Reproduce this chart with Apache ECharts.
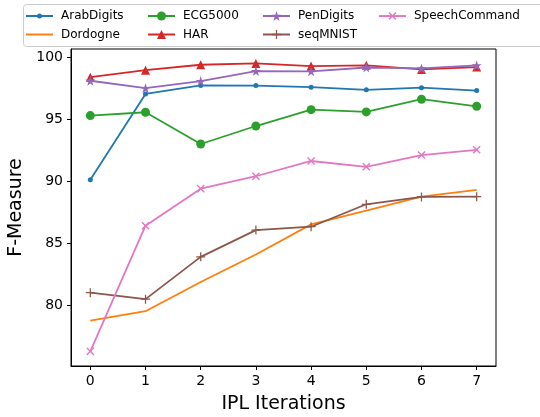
<!DOCTYPE html>
<html>
<head>
<meta charset="utf-8">
<script src="https://cdn.jsdelivr.net/npm/echarts@6/dist/echarts.min.js"></script>
<style>
html,body{margin:0;padding:0;background:#fff;}
#chart{width:540px;height:417px;}
</style>
</head>
<body>
<div id="chart"></div>
<script>
// ---- data ----
const iterations = [0, 1, 2, 3, 4, 5, 6, 7];
const xTicks = [0, 1, 2, 3, 4, 5, 6, 7];
const yTicks = [80, 85, 90, 95, 100];
const arabDigits    = [90.15, 97.08, 97.76, 97.75, 97.62, 97.41, 97.58, 97.35];
const dordogne      = [78.79, 79.56, 81.91, 84.13, 86.56, 87.66, 88.79, 89.34];
const ecg5000       = [95.33, 95.60, 93.04, 94.49, 95.81, 95.63, 96.65, 96.08];
const har           = [98.43, 98.99, 99.43, 99.54, 99.32, 99.38, 99.05, 99.24];
const penDigits     = [98.14, 97.54, 98.11, 98.92, 98.90, 99.21, 99.13, 99.38];
const seqMNIST      = [81.05, 80.53, 83.94, 86.10, 86.37, 88.18, 88.77, 88.79];
const speechCommand = [76.32, 86.45, 89.44, 90.44, 91.67, 91.20, 92.15, 92.57];
const seriesNames = ['ArabDigits', 'Dordogne', 'ECG5000', 'HAR', 'PenDigits', 'seqMNIST', 'SpeechCommand'];

const colors = ['#1f77b4', '#ff7f0e', '#2ca02c', '#d62728', '#9467bd', '#8c564b', '#e377c2'];
const starPath = 'path://M50,0 L61.23,34.55 L97.55,34.55 L68.17,55.90 L79.39,90.45 L50,69.1 L20.61,90.45 L31.83,55.90 L2.45,34.55 L38.77,34.55 Z';
const plusPath = 'path://M4.3,0 L5.7,0 L5.7,4.3 L10,4.3 L10,5.7 L5.7,5.7 L5.7,10 L4.3,10 L4.3,5.7 L0,5.7 L0,4.3 L4.3,4.3 Z';

function pairs(vals) { return iterations.map((x, i) => [x, vals[i]]); }

const styles = [
  {symbol: 'circle', size: 5, rot: 0},
  {symbol: 'none', size: 0, rot: 0},
  {symbol: 'circle', size: 9, rot: 0},
  {symbol: 'triangle', size: 9, rot: 0},
  {symbol: starPath, size: 10, rot: 0},
  {symbol: plusPath, size: 9, rot: 0},
  {symbol: plusPath, size: 10, rot: 45}
];
const allData = [arabDigits, dordogne, ecg5000, har, penDigits, seqMNIST, speechCommand];

const series = seriesNames.map((name, i) => ({
  name: name,
  type: 'line',
  data: pairs(allData[i]),
  symbol: styles[i].symbol,
  symbolSize: styles[i].size,
  symbolRotate: styles[i].rot,
  showSymbol: styles[i].symbol !== 'none',
  lineStyle: {width: 1.8, color: colors[i]},
  itemStyle: {color: colors[i], borderWidth: 0},
  emphasis: {disabled: true},
  z: 2 + i
}));

const fontFamily = 'DejaVu Sans';
const colLeft = [25, 147, 262, 378];
const rowMid = [16, 34.5];
const legendPos = [[0, 0], [0, 1], [1, 0], [1, 1], [2, 0], [2, 1], [3, 0]];
const legends = seriesNames.map((name, i) => {
  const isNone = styles[i].symbol === 'none';
  const ih = isNone ? 2 : styles[i].size / 0.8;
  return {
    left: colLeft[legendPos[i][0]],
    top: rowMid[legendPos[i][1]] - 7,
    data: [name], itemWidth: 27, itemHeight: ih,
    padding: 0, selectedMode: false,
    itemStyle: isNone ? {opacity: 0} : {},
    textStyle: {fontFamily: fontFamily, fontSize: 12, lineHeight: 14, color: '#000', padding: [0, 0, 0, 3]}
  };
});

const chart = echarts.init(document.getElementById('chart'), null, {renderer: 'canvas'});
chart.setOption({
  animation: false,
  color: colors,
  graphic: [{
    type: 'rect', left: 23, top: 4, z: -1,
    shape: {width: 540, height: 42, r: 3},
    style: {fill: '#fff', stroke: '#cccccc', lineWidth: 1}
  }],
  legend: legends,
  grid: {left: 71, right: 44, top: 49, bottom: 51, show: true, borderColor: '#000', borderWidth: 1,
         backgroundColor: 'transparent', outerBoundsMode: 'none', containLabel: false},
  xAxis: {
    type: 'value', min: -0.35, max: 7.35,
    name: 'IPL Iterations', nameLocation: 'middle', nameGap: 29,
    nameTextStyle: {fontFamily: fontFamily, fontSize: 19, color: '#000'},
    axisLine: {show: true, onZero: false, lineStyle: {color: '#000', width: 1}},
    splitLine: {show: false},
    axisTick: {show: true, length: 4, lineStyle: {color: '#000'}, customValues: xTicks},
    axisLabel: {fontFamily: fontFamily, fontSize: 14, color: '#000', margin: 8, customValues: xTicks}
  },
  yAxis: {
    type: 'value', min: 75.14, max: 100.7,
    name: 'F-Measure', nameLocation: 'middle', nameGap: 40,
    nameTextStyle: {fontFamily: fontFamily, fontSize: 19, color: '#000'},
    axisLine: {show: true, onZero: false, lineStyle: {color: '#000', width: 1}},
    splitLine: {show: false},
    axisTick: {show: true, length: 4, lineStyle: {color: '#000'}, customValues: yTicks},
    axisLabel: {fontFamily: fontFamily, fontSize: 14, color: '#000', margin: 8, customValues: yTicks}
  },
  series: series
});
</script>
</body>
</html>
